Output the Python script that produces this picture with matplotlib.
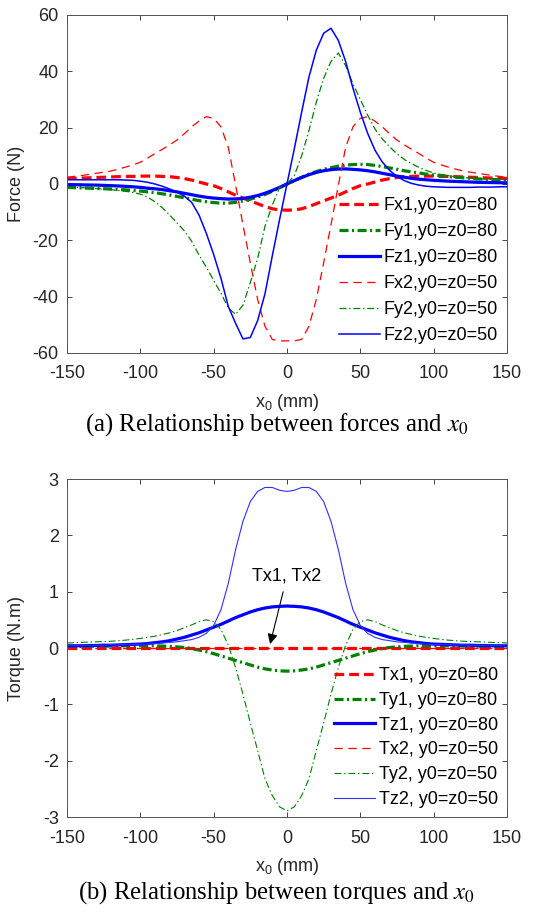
import matplotlib
matplotlib.use('Agg')
import matplotlib.pyplot as plt
import numpy as np

# x0 position (mm), every 5 mm
x0 = np.arange(-150, 151, 5)

# forces (N)
fx1 = [2.0, 2.0, 2.1, 2.2, 2.3, 2.4, 2.5, 2.6, 2.7, 2.7, 2.8, 2.8, 2.8, 2.7, 2.6, 2.3, 1.9, 1.4, 0.7, 0.0,
       -0.6, -1.6, -2.8, -4.0, -5.0, -6.0, -7.0, -8.0, -8.8, -9.2, -9.3,
       -9.2, -8.8, -8.0, -7.0, -6.0, -5.0, -4.0, -2.8, -1.6, -0.6, 0.0, 0.7, 1.4, 1.9, 2.3,
       2.6, 2.7, 2.8, 2.8, 2.8, 2.7, 2.7, 2.6, 2.5, 2.4, 2.3, 2.2, 2.1, 2.0, 2.0]
fy1 = [-1.2, -1.3, -1.4, -1.5, -1.6, -1.7, -1.8, -1.95, -2.1, -2.3, -2.5, -2.8, -3.1, -3.5, -3.9, -4.4,
       -4.9, -5.4, -5.9, -6.3, -6.6, -6.8, -6.8, -6.5, -6.0, -5.4, -4.6, -3.7, -2.6, -1.3, 0.0,
       1.2, 2.4, 3.5, 4.4, 5.2, 5.8, 6.3, 6.7, 6.9, 7.0, 6.9, 6.6, 6.2, 5.7, 5.2,
       4.7, 4.3, 3.9, 3.5, 3.2, 2.9, 2.6, 2.4, 2.2, 2.0, 1.8, 1.7, 1.6, 1.5, 1.4]
fz1 = [-0.2, -0.25, -0.3, -0.35, -0.4, -0.5, -0.6, -0.7, -0.85, -1.0, -1.2, -1.5, -1.7, -2.0, -2.4, -2.8,
       -3.3, -3.8, -4.3, -4.7, -5.0, -5.2, -5.35, -5.3, -5.1, -4.7, -4.1, -3.3, -2.3, -1.2, 0.0,
       1.2, 2.3, 3.3, 4.1, 4.7, 5.1, 5.3, 5.35, 5.2, 5.0, 4.7, 4.3, 3.8, 3.3, 2.8,
       2.4, 2.0, 1.7, 1.5, 1.3, 1.15, 1.0, 0.9, 0.8, 0.7, 0.6, 0.55, 0.5, 0.45, 0.4]
fx2 = [2.4, 2.7, 3.0, 3.4, 3.8, 4.2, 4.6, 5.3, 6.0, 6.8, 7.7, 9.2, 10.8, 12.3, 13.9, 15.6,
       17.8, 20.3, 22.3, 23.9, 23.3, 20.3, 13.0, -0.5, -14.5, -28.0, -41.0, -50.5, -55.2, -55.7, -55.7,
       -55.7, -55.2, -50.5, -41.0, -28.0, -14.5, -0.5, 13.0, 20.3, 23.3, 23.9, 22.3, 20.3, 17.8, 15.6,
       13.9, 12.3, 10.8, 9.2, 7.7, 6.8, 6.0, 5.3, 4.6, 4.2, 3.8, 3.4, 3.0, 2.7, 2.4]
fy2 = [-1.1, -1.2, -1.3, -1.4, -1.6, -1.8, -2.0, -2.3, -2.6, -3.0, -3.6, -4.7, -6.3, -8.4, -11.0, -13.8,
       -16.6, -20.3, -25.2, -29.5, -34.2, -38.8, -44.0, -46.3, -43.0, -35.0, -26.5, -15.0, -7.5, -1.2, 0.0,
       3.0, 10.0, 19.0, 29.0, 37.5, 43.5, 46.5, 42.0, 35.5, 30.0, 24.5, 19.5, 16.0, 13.2, 10.7,
       8.7, 7.2, 5.9, 4.8, 3.9, 3.4, 3.0, 2.6, 2.3, 2.1, 1.9, 1.7, 1.6, 1.5, 1.4]
fz2 = [1.5, 1.5, 1.5, 1.5, 1.5, 1.5, 1.5, 1.5, 1.4, 1.3, 1.0, 0.6, 0.0, -0.8, -1.8, -2.9,
       -4.3, -6.5, -11.0, -17.5, -25.0, -33.5, -43.5, -49.5, -55.0, -54.5, -48.5, -39.0, -25.5, -12.5, 0.0,
       12.5, 25.5, 38.0, 47.5, 53.5, 55.3, 51.0, 43.5, 34.0, 25.5, 18.0, 12.0, 7.8, 4.8, 2.7,
       1.2, 0.2, -0.4, -0.8, -1.0, -1.1, -1.2, -1.2, -1.2, -1.2, -1.1, -1.1, -1.1, -1.0, -1.0]

# torques (N.m)
tx_x = [-150, 150]
tx1 = [0.0, 0.0]
tx2 = [0.0, 0.0]
ty1 = [0.03, 0.03, 0.03, 0.03, 0.035, 0.035, 0.035, 0.04, 0.04, 0.04, 0.04, 0.04, 0.04, 0.035, 0.03, 0.02,
       0.01, -0.01, -0.035, -0.065, -0.1, -0.14, -0.18, -0.22, -0.26, -0.3, -0.34, -0.37, -0.39, -0.405, -0.41,
       -0.405, -0.39, -0.37, -0.34, -0.3, -0.26, -0.22, -0.18, -0.14, -0.1, -0.065, -0.035, -0.01, 0.01, 0.02,
       0.03, 0.035, 0.04, 0.04, 0.04, 0.04, 0.04, 0.04, 0.035, 0.035, 0.035, 0.03, 0.03, 0.03, 0.03]
tz1 = [0.04, 0.04, 0.04, 0.045, 0.045, 0.05, 0.05, 0.055, 0.06, 0.065, 0.07, 0.08, 0.095, 0.11, 0.13, 0.16,
       0.19, 0.23, 0.27, 0.32, 0.37, 0.42, 0.48, 0.54, 0.59, 0.64, 0.68, 0.71, 0.73, 0.74, 0.745,
       0.74, 0.73, 0.71, 0.68, 0.64, 0.59, 0.54, 0.48, 0.42, 0.37, 0.32, 0.27, 0.23, 0.19, 0.16,
       0.13, 0.11, 0.095, 0.08, 0.07, 0.065, 0.06, 0.055, 0.05, 0.05, 0.045, 0.045, 0.04, 0.04, 0.04]
ty2 = [0.09, 0.095, 0.1, 0.105, 0.11, 0.115, 0.12, 0.13, 0.14, 0.155, 0.17, 0.19, 0.21, 0.24, 0.27, 0.31,
       0.36, 0.41, 0.47, 0.5, 0.47, 0.33, 0.05, -0.35, -0.82, -1.33, -1.82, -2.32, -2.62, -2.82, -2.89,
       -2.82, -2.62, -2.32, -1.82, -1.33, -0.82, -0.35, 0.05, 0.33, 0.47, 0.5, 0.47, 0.41, 0.36, 0.31,
       0.27, 0.24, 0.21, 0.19, 0.17, 0.155, 0.14, 0.13, 0.12, 0.115, 0.11, 0.105, 0.1, 0.095, 0.09]
tz2 = [0.05, 0.05, 0.05, 0.05, 0.05, 0.05, 0.055, 0.055, 0.06, 0.06, 0.065, 0.07, 0.08, 0.09, 0.1, 0.11,
       0.13, 0.15, 0.19, 0.26, 0.4, 0.68, 1.15, 1.75, 2.25, 2.6, 2.78, 2.85, 2.85, 2.8, 2.78,
       2.8, 2.85, 2.85, 2.78, 2.6, 2.25, 1.75, 1.15, 0.68, 0.4, 0.26, 0.19, 0.15, 0.13, 0.11,
       0.1, 0.09, 0.08, 0.07, 0.065, 0.06, 0.06, 0.055, 0.055, 0.05, 0.05, 0.05, 0.05, 0.05, 0.05]

force_labels = ['Fx1,y0=z0=80', 'Fy1,y0=z0=80', 'Fz1,y0=z0=80',
                'Fx2,y0=z0=50', 'Fy2,y0=z0=50', 'Fz2,y0=z0=50']
torque_labels = ['Tx1, y0=z0=80', 'Ty1, y0=z0=80', 'Tz1, y0=z0=80',
                 'Tx2, y0=z0=50', 'Ty2, y0=z0=50', 'Tz2, y0=z0=50']

plt.rcParams['font.family'] = 'Liberation Sans'
plt.rcParams['mathtext.fontset'] = 'stix'
plt.rcParams['lines.scale_dashes'] = False
plt.rcParams['axes.unicode_minus'] = False

red, green, blue = '#ff0000', '#008000', '#0000ff'
lw_thick, lw_thin = 2.3, 0.9
dash_thick = (0, (7, 3.6))
dash_thin = (0, (6, 4))
dashdot_thick = (0, (6.5, 2.5, 1.5, 2.5))
dashdot_thin = (0, (5, 2, 1, 2))
ink = '#262626'
fs = 13

fig = plt.figure(figsize=(5.41, 9.14), dpi=100)
ax1 = fig.add_axes([0.1238, 0.6138, 0.8133, 0.3698])
ax2 = fig.add_axes([0.1238, 0.1061, 0.8133, 0.3698])

# (a) forces
ax1.plot(x0, fx1, color=red, lw=lw_thick, linestyle=dash_thick, label=force_labels[0])
ax1.plot(x0, fy1, color=green, lw=lw_thick, linestyle=dashdot_thick, label=force_labels[1])
ax1.plot(x0, fz1, color=blue, lw=lw_thick, label=force_labels[2])
ax1.plot(x0, fx2, color=red, lw=lw_thin, linestyle=dash_thin, label=force_labels[3])
ax1.plot(x0, fy2, color=green, lw=lw_thin, linestyle=dashdot_thin, label=force_labels[4])
ax1.plot(x0, fz2, color=blue, lw=lw_thin + 0.2, label=force_labels[5])
ax1.set_ylim(-60, 60)
ax1.set_yticks([-60, -40, -20, 0, 20, 40, 60])
ax1.set_ylabel('Force (N)', fontsize=fs, color=ink)

# (b) torques
ax2.plot(tx_x, tx1, color=red, lw=lw_thick, linestyle=dash_thick, label=torque_labels[0])
ax2.plot(x0, ty1, color=green, lw=lw_thick, linestyle=dashdot_thick, label=torque_labels[1])
ax2.plot(x0, tz1, color=blue, lw=lw_thick, label=torque_labels[2])
ax2.plot(tx_x, tx2, color=red, lw=lw_thin, linestyle=dash_thin, label=torque_labels[3])
ax2.plot(x0, ty2, color=green, lw=lw_thin - 0.1, linestyle=dashdot_thin, label=torque_labels[4])
ax2.plot(x0, tz2, color='#3030ff', lw=lw_thin - 0.1, label=torque_labels[5])
ax2.set_ylim(-3, 3)
ax2.set_yticks([-3, -2, -1, 0, 1, 2, 3])
ax2.set_ylabel('Torque (N.m)', fontsize=fs, color=ink)
ax2.annotate('Tx1, Tx2', xy=(-11.5, 0.07), xytext=(0, 1.27), ha='center', va='center',
             fontsize=fs, color='k',
             arrowprops=dict(arrowstyle='-|>', color='k', lw=0.8, mutation_scale=15, shrinkA=3, shrinkB=0))

for ax, spacing in ((ax1, 0.5), (ax2, 0.43)):
    ax.set_xlim(-150, 150)
    ax.set_xticks([-150, -100, -50, 0, 50, 100, 150])
    ax.set_xlabel(r'$\mathregular{x_0}$ (mm)', fontsize=fs, color=ink, labelpad=7)
    ax.yaxis.set_label_coords(-0.095, 0.5)
    ax.tick_params(direction='in', top=True, right=True, length=3.6, width=0.6,
                   labelsize=fs, colors=ink)
    ax.tick_params(axis='x', pad=9)
    ax.tick_params(axis='y', pad=6)
    for s in ax.spines.values():
        s.set_color('#555555')
        s.set_linewidth(0.7)
    ax.legend(loc='lower right', frameon=False, fontsize=fs, handlelength=2.3,
              handletextpad=0.2, labelspacing=spacing, borderaxespad=0.2, borderpad=0.3)

cap = dict(ha='center', va='center', fontsize=17.8, family='Liberation Serif', color='k')
fig.text(0.511, 1 - 425 / 914, r'(a) Relationship between forces and $x_0$', **cap)
fig.text(0.511, 1 - 893 / 914, r'(b) Relationship between torques and $x_0$', **cap)

fig.savefig('out.png', dpi=100)
